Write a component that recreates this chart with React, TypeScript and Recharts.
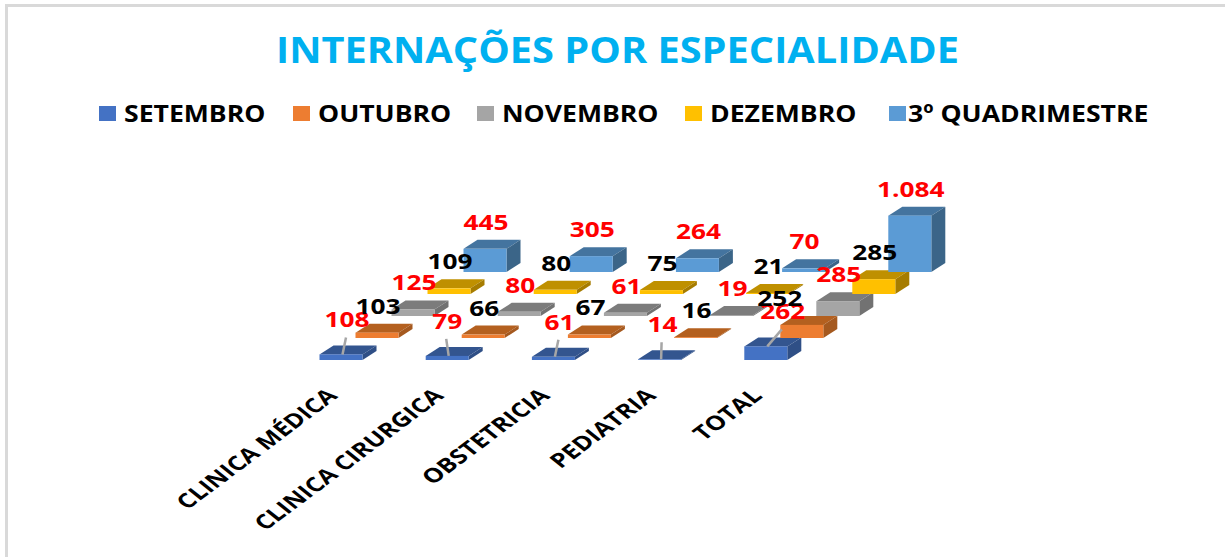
import React from 'react'
import { Bar, BarChart, LabelList, Legend, XAxis, YAxis } from 'recharts'

const categorias = ['CLINICA MÉDICA', 'CLINICA CIRURGICA', 'OBSTETRICIA', 'PEDIATRIA', 'TOTAL']

const setembro = [108, 79, 61, 14, 262]
const outubro = [103, 66, 67, 16, 252]
const novembro = [125, 80, 61, 19, 285]
const dezembro = [109, 80, 75, 21, 285]
const quadrimestre = [445, 305, 264, 70, 1084]

const data = categorias.map((name, i) => ({
    name,
    SETEMBRO: setembro[i],
    OUTUBRO: outubro[i],
    NOVEMBRO: novembro[i],
    DEZEMBRO: dezembro[i],
    '3º QUADRIMESTRE': quadrimestre[i],
}))

const series = [
    { key: 'SETEMBRO', front: '#4472C4', top: '#33558F', side: '#2F4F86', label: '#FF0000' },
    { key: 'OUTUBRO', front: '#ED7D31', top: '#B4601F', side: '#A5591F', label: '#000000' },
    { key: 'NOVEMBRO', front: '#A5A5A5', top: '#7C7C7C', side: '#727272', label: '#FF0000' },
    { key: 'DEZEMBRO', front: '#FFC000', top: '#BF9000', side: '#A67C00', label: '#000000' },
    { key: '3º QUADRIMESTRE', front: '#5B9BD5', top: '#44749F', side: '#3B6588', label: '#FF0000' },
]

// the 3d floor: every series sits further right and further back
const STEP_X = 36
const STEP_Y = 22
const DEPTH_X = 14
const DEPTH_Y = 9

const TEXT_FONT = '"Open Sans", sans-serif'

// hand placed labels in the original, setembro has leader lines
const setembroLabelDx = [6, 0, 6, 3, 17]

// the original picture is stretched sideways, the texts follow it
const legendLeft = [99, 293, 477, 685, 889]
const legendTextGap = [8, 8, 8, 8, 2]

const Bar3D = (i: number) => (props: any) => {
    const { x, y, width, height } = props
    const s = series[i]
    const left = x + (i - 2) * STEP_X
    const top = y - i * STEP_Y
    const right = left + width
    const bottom = top + height
    return (
        <g>
            <polygon
                points={`${left},${top} ${left + DEPTH_X},${top - DEPTH_Y} ${right + DEPTH_X},${top - DEPTH_Y} ${right},${top}`}
                fill={s.top}
            />
            <polygon
                points={`${right},${top} ${right + DEPTH_X},${top - DEPTH_Y} ${right + DEPTH_X},${bottom - DEPTH_Y} ${right},${bottom}`}
                fill={s.side}
            />
            <rect x={left} y={top} width={width} height={height} fill={s.front} />
        </g>
    )
}

const Label3D = (i: number) => (props: any) => {
    const { x, y, width, value, index } = props
    const s = series[i]
    const cx = x + (i - 2) * STEP_X + width / 2
    const top = y - i * STEP_Y
    let dx = 1
    if (i === 0) dx = setembroLabelDx[index]
    if (i === 1 && index === 4) dx = -22
    const lx = cx + dx
    const ly = top + (i === 0 ? -35 : -27)
    return (
        <g>
            {i === 0 && <line x1={cx + 1.5} y1={top} x2={lx - 1} y2={ly + 18} stroke="#A6A6A6" strokeWidth={2.5} />}
            <text
                transform={`translate(${lx},${ly}) scale(1.25,1)`}
                textAnchor="middle"
                dominantBaseline="central"
                fill={s.label}
                fontFamily={TEXT_FONT}
                fontSize={21}
                fontWeight={700}
            >
                {value.toLocaleString('pt-BR')}
            </text>
        </g>
    )
}

const CategoryTick = (props: any) => {
    const { x, payload } = props
    return (
        <text
            transform={`translate(${x - 74},397) scale(1.29,1) rotate(-44)`}
            textAnchor="end"
            fill="#000000"
            fontFamily={TEXT_FONT}
            fontSize={20}
            fontWeight={700}
        >
            {payload.value}
        </text>
    )
}

const LegendRow = ({ payload }: any) => (
    <div style={{ position: 'relative', height: 24 }}>
        {payload.map((item: any, i: number) => (
            <div key={item.value} style={{ position: 'absolute', left: legendLeft[i], top: 0, display: 'flex', alignItems: 'center', height: 24, whiteSpace: 'nowrap' }}>
                <div style={{ width: 17, height: 15, background: item.color, marginRight: legendTextGap[i] }} />
                <span
                    style={{
                        fontFamily: TEXT_FONT,
                        fontWeight: 700,
                        fontSize: 24,
                        color: '#000000',
                        lineHeight: '24px',
                        display: 'inline-block',
                        transform: 'scaleX(1.107)',
                        transformOrigin: 'left center',
                    }}
                >
                    {item.value}
                </span>
            </div>
        ))}
    </div>
)

const App = () => {
    return (
        <div style={{ position: 'absolute', left: 0, top: 0, width: 1225, height: 557, background: '#fff', overflow: 'hidden' }}>
            <div style={{ position: 'absolute', left: 5, top: 4, right: 0, bottom: 0, borderTop: '3px solid #D9D9D9', borderLeft: '3px solid #D9D9D9' }} />
            <div
                style={{
                    position: 'absolute',
                    left: 0,
                    top: 26,
                    width: 1235,
                    textAlign: 'center',
                    fontFamily: TEXT_FONT,
                    fontWeight: 700,
                    fontSize: 35,
                    lineHeight: '48px',
                    color: '#00B0F0',
                    transform: 'scaleX(1.136)',
                    transformOrigin: '617.5px 50%',
                }}
            >
                INTERNAÇÕES POR ESPECIALIDADE
            </div>
            <BarChart
                width={1225}
                height={557}
                data={data}
                margin={{ top: 24, right: 334.5, bottom: 167, left: 359.5 }}
                style={{ position: 'absolute', left: 0, top: 0 }}
            >
                <YAxis hide domain={[0, 6000]} />
                <XAxis xAxisId={0} dataKey="name" axisLine={false} tickLine={false} tick={<CategoryTick />} interval={0} />
                <XAxis xAxisId={1} dataKey="name" hide />
                <XAxis xAxisId={2} dataKey="name" hide />
                <XAxis xAxisId={3} dataKey="name" hide />
                <XAxis xAxisId={4} dataKey="name" hide />
                <Legend
                    verticalAlign="top"
                    itemSorter={null}
                    content={<LegendRow />}
                    wrapperStyle={{ top: 101, left: 0, width: 1225 }}
                />
                {series.map((s, i) => (
                    <Bar
                        key={s.key}
                        dataKey={s.key}
                        xAxisId={i}
                        barSize={43}
                        fill={s.front}
                        shape={Bar3D(i)}
                        isAnimationActive={false}
                    >
                        <LabelList dataKey={s.key} content={Label3D(i)} />
                    </Bar>
                ))}
            </BarChart>
        </div>
    )
}

export default App
